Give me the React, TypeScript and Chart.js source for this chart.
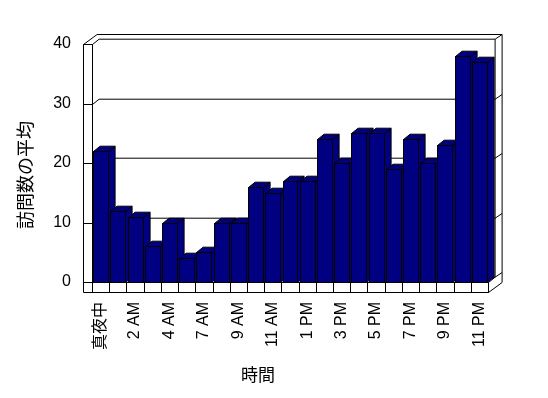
import React, { useEffect, useRef } from 'react';
import { Chart, registerables } from 'chart.js';

Chart.register(...registerables);

const hours = ['真夜中', '1 AM', '2 AM', '3 AM', '4 AM', '5 AM', '7 AM', '8 AM', '9 AM', '10 AM', '11 AM', '正午', '1 PM', '2 PM', '3 PM', '4 PM', '5 PM', '6 PM', '7 PM', '8 PM', '9 PM', '10 PM', '11 PM'];
const visits = [22, 12, 11, 6, 10, 4, 5, 10, 10, 16, 15, 17, 17, 24, 20, 25, 25, 19, 24, 20, 23, 38, 37];
const yTickValues = [0, 10, 20, 30, 40];
const xTitle = '時間';
const yTitle = '訪問数の平均';

const NAVY = '#000080';
const FONT = '"Liberation Sans", Arial, "Noto Sans CJK JP", sans-serif';
const DEPTH = { dx: 6.6, dy: -5.3 };
const OUTER = { dx: 13.6, dy: -10 };
const WALL = 9;
const FLOOR = 10;

const c = (v: number) => Math.round(v) + 0.5;

function poly(ctx: CanvasRenderingContext2D, pts: number[][], close = false) {
  ctx.beginPath();
  pts.forEach(([px, py], i) => (i ? ctx.lineTo(px, py) : ctx.moveTo(px, py)));
  if (close) ctx.closePath();
}

const frame3d = {
  id: 'frame3d',
  beforeDatasetsDraw(chart: any) {
    const { ctx, chartArea, scales } = chart;
    const L = c(chartArea.left);
    const R = c(chartArea.right);
    const T = c(chartArea.top);
    const B = c(chartArea.bottom);
    const WL = L - WALL;
    const FB = B + FLOOR;
    ctx.save();
    ctx.strokeStyle = '#000';
    ctx.lineWidth = 1;
    // ticks on left wall + gridlines on back wall
    yTickValues.forEach((v) => {
      const py = c(scales.y.getPixelForValue(v));
      poly(ctx, [[WL, py], [L, py], [L + DEPTH.dx, py + DEPTH.dy], [R + DEPTH.dx, py + DEPTH.dy], [R + OUTER.dx, py + OUTER.dy]]);
      ctx.stroke();
    });
    // outer top & right of back wall
    poly(ctx, [[WL, T], [WL + OUTER.dx, T + OUTER.dy], [R + OUTER.dx, T + OUTER.dy], [R + OUTER.dx, FB + OUTER.dy]]);
    ctx.stroke();
    // left wall front + floor bottom + floor right diagonal
    poly(ctx, [[WL, T], [WL, FB], [R, FB], [R + OUTER.dx, FB + OUTER.dy]]);
    ctx.stroke();
    // left wall inner vertical
    poly(ctx, [[L, T], [L, B]]);
    ctx.stroke();
    // floor top front line, right end
    poly(ctx, [[WL, B], [R, B], [R, FB]]);
    ctx.stroke();
    poly(ctx, [[R, B], [R + DEPTH.dx, B + DEPTH.dy], [R + DEPTH.dx, T + DEPTH.dy]]);
    ctx.stroke();
    // category ticks on floor front
    const n = hours.length;
    for (let i = 0; i <= n; i++) {
      const px = c(scales.x.getPixelForValue(i - 0.5));
      poly(ctx, [[px, B], [px, FB]]);
      ctx.stroke();
    }
    ctx.restore();
  },
  afterDatasetsDraw(chart: any) {
    const { ctx } = chart;
    const meta = chart.getDatasetMeta(0);
    ctx.save();
    ctx.strokeStyle = '#000';
    ctx.fillStyle = NAVY;
    ctx.lineWidth = 1;
    meta.data.forEach((bar: any) => {
      const { x, y, base, width } = bar.getProps(['x', 'y', 'base', 'width'], true);
      const x0 = c(x - width / 2);
      const x1 = c(x + width / 2);
      const yt = c(y);
      const yb = c(base);
      const dx = DEPTH.dx;
      const dy = DEPTH.dy;
      // side face
      poly(ctx, [[x1, yt], [x1 + dx, yt + dy], [x1 + dx, yb + dy], [x1, yb]], true);
      ctx.fill();
      ctx.stroke();
      // top face
      poly(ctx, [[x0, yt], [x1, yt], [x1 + dx, yt + dy], [x0 + dx, yt + dy]], true);
      ctx.fill();
      ctx.stroke();
      // front face
      poly(ctx, [[x0, yt], [x1, yt], [x1, yb], [x0, yb]], true);
      ctx.fill();
      ctx.stroke();
    });
    ctx.restore();
  },
  afterDraw(chart: any) {
    const { ctx } = chart;
    ctx.save();
    ctx.fillStyle = '#000';
    ctx.textAlign = 'center';
    ctx.textBaseline = 'middle';
    ctx.font = `17px ${FONT}`;
    ctx.fillText(xTitle, 258, 376);
    ctx.translate(27, 175);
    ctx.rotate(-Math.PI / 2);
    ctx.font = `18px ${FONT}`;
    ctx.fillText(yTitle, 0, 0);
    ctx.restore();
  },
};

export default function App() {
  const ref = useRef<HTMLCanvasElement>(null);
  useEffect(() => {
    if (!ref.current) return;
    const chart = new Chart(ref.current, {
      type: 'bar',
      data: {
        labels: hours,
        datasets: [
          {
            data: visits,
            backgroundColor: 'rgba(0,0,0,0)',
            borderWidth: 0,
            barPercentage: 0.87,
            categoryPercentage: 1,
          },
        ],
      },
      options: {
        animation: false,
        responsive: false,
        devicePixelRatio: 1,
        layout: { padding: { left: 0, top: 44, right: 60, bottom: 0 } },
        plugins: { legend: { display: false }, tooltip: { enabled: false } },
        scales: {
          x: {
            grid: { display: false, drawTicks: false },
            border: { display: false },
            ticks: {
              autoSkip: false,
              minRotation: 90,
              maxRotation: 90,
              padding: 20,
              color: '#000',
              font: { size: 16, family: FONT },
              callback: (_v: any, i: number) => (i % 2 === 0 ? hours[i] : ''),
            },
            afterFit: (s: any) => {
              s.height = 116;
            },
          },
          y: {
            min: 0,
            max: 40,
            grid: { display: false, drawTicks: false },
            border: { display: false },
            ticks: {
              stepSize: 10,
              padding: 21,
              color: '#000',
              font: { size: 16, family: FONT },
            },
            afterFit: (s: any) => {
              s.width = 92;
            },
          },
        },
      },
      plugins: [frame3d],
    });
    return () => chart.destroy();
  }, []);
  return (
    <div style={{ position: 'fixed', left: 0, top: 0, width: 548, height: 398, background: '#fff' }}>
      <canvas ref={ref} width={548} height={398} style={{ display: 'block' }} />
    </div>
  );
}
